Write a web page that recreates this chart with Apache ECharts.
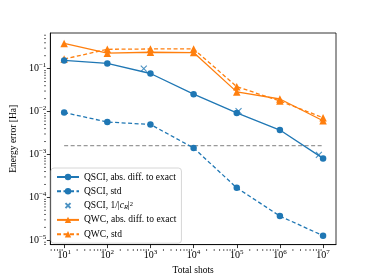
<!DOCTYPE html>
<html><head><meta charset="utf-8">
<script src="https://cdn.jsdelivr.net/npm/echarts@6/dist/echarts.min.js"></script>
<style>html,body{margin:0;padding:0;background:#fff}#c{width:374px;height:280px}</style>
</head><body><div id="c"></div>
<script>
const shots = [1e1, 1e2, 1e3, 1e4, 1e5, 1e6, 1e7];
const qsciAbs = [0.155, 0.132, 0.077, 0.0254, 0.0093, 0.0037, 0.00081];
const qsciStd = [0.0095, 0.0057, 0.0050, 0.00142, 0.000167, 0.0000367, 0.0000128];
const qsciInvX = [700, 1.1e5, 8e6];
const qsciInvY = [0.1, 0.0102, 0.00098];
const qwcAbs = [0.387, 0.229, 0.241, 0.237, 0.0287, 0.0196, 0.0061];
const qwcStd = [0.167, 0.282, 0.287, 0.287, 0.038, 0.0176, 0.0072];
const chemAccX = [1e1, 1e7];
const chemAccY = [0.0016, 0.0016];

const BLUE = '#1f77b4', ORANGE = '#ff7f0e';
const FONT = 'Liberation Serif';
const zip = (a, b) => a.map((v, i) => [v, b[i]]);
const sup = {
  n: {fontFamily: FONT, fontSize: 10, color: '#000'},
  s: {fontFamily: FONT, fontSize: 7, color: '#000', verticalAlign: 'top', padding: [0, 0, 6, 0]}
};
function powLabel(v) {
  const e = Math.round(Math.log10(v));
  const es = e < 0 ? '\u2212' + (-e) : '' + e;
  return '{n|10}{s|' + es + '}';
}
const chart = echarts.init(document.getElementById('c'), null, {renderer: 'canvas'});
const xMin = Math.pow(10, 0.68), xMax = Math.pow(10, 7.3);
const yMin = Math.pow(10, -5.1), yMax = Math.pow(10, -0.17);
const crossSmall = 'path://M-3,-3L-3,-3M0,0L10,10M10,0L0,10M13,13L13,13';
chart.setOption({
  animation: false,
  textStyle: {fontFamily: FONT},
  grid: {left: 46, right: 38, top: 33, bottom: 31, show: true, borderColor: '#000', borderWidth: 0.8, backgroundColor: 'transparent'},
  xAxis: {
    type: 'log', min: xMin, max: xMax,
    name: 'Total shots', nameLocation: 'middle', nameGap: 19,
    nameTextStyle: {fontFamily: FONT, fontSize: 9.5, color: '#000'},
    axisLine: {show: true, lineStyle: {color: '#000', width: 0.8}},
    axisTick: {show: true, inside: false, length: 3.5, lineStyle: {color: '#000', width: 0.8}},
    splitLine: {show: false},
    axisLabel: {showMinLabel: false, showMaxLabel: false, margin: 4, formatter: powLabel, rich: sup}
  },
  yAxis: {
    type: 'log', min: yMin, max: yMax,
    name: 'Energy error [Ha]', nameLocation: 'middle', nameGap: 32, nameRotate: 90,
    nameTextStyle: {fontFamily: FONT, fontSize: 9.5, color: '#000'},
    axisLine: {show: true, lineStyle: {color: '#000', width: 0.8}},
    axisTick: {show: true, inside: false, length: 3.5, lineStyle: {color: '#000', width: 0.8}},
    splitLine: {show: false},
    axisLabel: {showMinLabel: false, showMaxLabel: false, margin: 4, formatter: powLabel, rich: sup}
  },
  legend: {
    orient: 'vertical', left: 51, top: 168,
    itemWidth: 22, itemHeight: 8, itemGap: 4.3,
    padding: [4, 5, 4, 5],
    backgroundColor: '#fff', borderColor: '#ccc', borderWidth: 0.8, borderRadius: 3,
    textStyle: {fontFamily: FONT, fontSize: 9.5, color: '#000', lineHeight: 10,
      rich: {
        t: {fontFamily: FONT, fontSize: 9.5, color: '#000', lineHeight: 10},
        i: {fontFamily: FONT, fontSize: 9.5, fontStyle: 'italic', color: '#000', lineHeight: 10},
        sub: {fontFamily: FONT, fontSize: 6.5, fontStyle: 'italic', color: '#000', verticalAlign: 'bottom', lineHeight: 10},
        sup: {fontFamily: FONT, fontSize: 6.5, color: '#000', verticalAlign: 'top', lineHeight: 10}
      }},
    formatter: function (name) {
      if (name === 'QSCI, 1/|c_R|^2') return '{t|QSCI, 1/|}{i|c}{sub|R}{t||}{sup|2}';
      return name;
    },
    data: ['QSCI, abs. diff. to exact', 'QSCI, std', {name: 'QSCI, 1/|c_R|^2', icon: crossSmall}, 'QWC, abs. diff. to exact', 'QWC, std']
  },
  series: [
    {name: 'chem', type: 'line', data: zip(chemAccX, chemAccY), symbol: 'none', silent: true,
      lineStyle: {color: '#7f7f7f', width: 1, type: [4, 2.5]}, z: 1},
    {name: 'QSCI, abs. diff. to exact', type: 'line', data: zip(shots, qsciAbs), color: BLUE,
      symbol: 'circle', symbolSize: 6.5, lineStyle: {width: 1.3, color: BLUE}, itemStyle: {color: BLUE}, z: 3},
    {name: 'QSCI, std', type: 'line', data: zip(shots, qsciStd), color: BLUE,
      symbol: 'circle', symbolSize: 6.5, lineStyle: {width: 1.3, color: BLUE, type: [4, 2.5]}, itemStyle: {color: BLUE}, z: 3},
    {name: 'QSCI, 1/|c_R|^2', type: 'scatter', data: zip(qsciInvX, qsciInvY), color: BLUE,
      symbol: 'path://M0,0L10,10M10,0L0,10', symbolSize: 6,
      itemStyle: {color: 'rgba(0,0,0,0)', borderColor: BLUE, borderWidth: 1.1}, z: 4},
    {name: 'QWC, abs. diff. to exact', type: 'line', data: zip(shots, qwcAbs), color: ORANGE,
      symbol: 'triangle', symbolSize: 7.5, lineStyle: {width: 1.3, color: ORANGE}, itemStyle: {color: ORANGE}, z: 2},
    {name: 'QWC, std', type: 'line', data: zip(shots, qwcStd), color: ORANGE,
      symbol: 'triangle', symbolSize: 7.5, lineStyle: {width: 1.3, color: ORANGE, type: [4, 2.5]}, itemStyle: {color: ORANGE}, z: 2}
  ]
});

// minor ticks at 2..9 x 10^k, computed through the axis scales
(function () {
  const els = [];
  const gridBottom = 280 - 31, gridLeft = 46;
  for (let e = 0; e <= 7; e++) {
    for (let m = 2; m <= 9; m++) {
      const v = m * Math.pow(10, e);
      if (v < xMin || v > xMax) continue;
      const px = chart.convertToPixel({xAxisIndex: 0}, v);
      els.push({type: 'line', shape: {x1: px, y1: gridBottom, x2: px, y2: gridBottom + 2}, style: {stroke: '#000', lineWidth: 0.6}, silent: true});
    }
  }
  for (let e = -6; e <= 0; e++) {
    for (let m = 2; m <= 9; m++) {
      const v = m * Math.pow(10, e);
      if (v < yMin || v > yMax) continue;
      const py = chart.convertToPixel({yAxisIndex: 0}, v);
      els.push({type: 'line', shape: {x1: gridLeft - 2, y1: py, x2: gridLeft, y2: py}, style: {stroke: '#000', lineWidth: 0.6}, silent: true});
    }
  }
  chart.setOption({graphic: {elements: els}});
})();
</script></body></html>
